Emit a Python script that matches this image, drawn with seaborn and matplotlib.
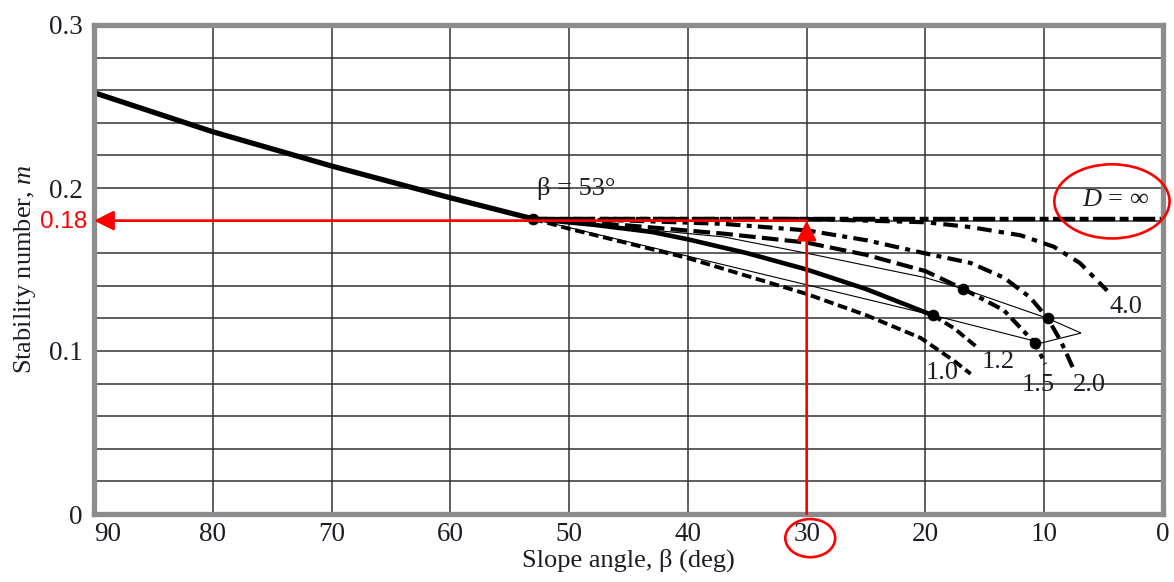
import matplotlib
matplotlib.use("Agg")
import matplotlib.pyplot as plt
import seaborn as sns
from matplotlib.patches import Ellipse
from matplotlib.ticker import MultipleLocator

# ---------------- data ----------------
x_ticks = [90, 80, 70, 60, 50, 40, 30, 20, 10, 0]
x_tick_labels = ["90", "80", "70", "60", "50", "40", "30", "20", "10", "0"]
y_ticks = [0, 0.1, 0.2, 0.3]
y_tick_labels = ["0", "0.1", "0.2", "0.3"]

beta_main = [90, 80, 70, 60, 53]
m_main = [0.2585, 0.2345, 0.2135, 0.194, 0.181]

beta_inf = [53, 0]
m_inf = [0.181, 0.181]

beta_d40 = [53, 30, 20, 16.2, 12, 9.2, 7, 4.7]
m_d40 = [0.181, 0.181, 0.179, 0.176, 0.171, 0.164, 0.154, 0.137]

beta_d20 = [53, 45, 37, 30, 25, 20.4, 16.2, 13.4, 11.2, 9.7, 8.6, 7.6]
m_d20 = [0.181, 0.180, 0.178, 0.174, 0.168, 0.1605, 0.154, 0.145, 0.133, 0.120, 0.106, 0.090]

beta_d15_a = [53, 45, 37, 30, 25, 20, 16.8]
m_d15_a = [0.181, 0.177, 0.172, 0.1665, 0.159, 0.149, 0.138]
beta_d15_b = [16.8, 13.4, 10.8, 9.9]
m_d15_b = [0.138, 0.125, 0.105, 0.092]

beta_d12_a = [53, 48, 43, 40, 35, 30, 25, 19.4]
m_d12_a = [0.181, 0.1775, 0.173, 0.1685, 0.160, 0.150, 0.138, 0.122]
beta_d12_b = [19.4, 17.6, 15.6]
m_d12_b = [0.122, 0.114, 0.102]

beta_d10 = [53, 50, 45, 40, 35, 30, 25, 20.4, 17.6, 16.2]
m_d10 = [0.181, 0.175, 0.166, 0.157, 0.146, 0.135, 0.122, 0.108, 0.094, 0.086]

beta_thin_up = [53, 37, 30, 20, 16.8, 9.7, 6.9]
m_thin_up = [0.181, 0.170, 0.160, 0.145, 0.138, 0.120, 0.111]
beta_thin_lo = [53, 19.4, 10.2, 6.9]
m_thin_lo = [0.181, 0.122, 0.105, 0.111]

beta_markers = [53, 19.4, 16.8, 10.8, 9.7]
m_markers = [0.181, 0.122, 0.138, 0.105, 0.120]

curve_labels = ["1.0", "1.2", "1.5", "2.0", "4.0"]
curve_label_beta = [18.6, 13.9, 10.5, 6.2, 3.1]
curve_label_m = [0.0867, 0.0934, 0.0793, 0.0793, 0.127]

read_beta = 30
read_m = 0.18

# ---------------- style ----------------
sns.set_style("white")
plt.rcParams["font.family"] = ["Liberation Serif", "DejaVu Serif"]
plt.rcParams["mathtext.fontset"] = "custom"
plt.rcParams["mathtext.rm"] = "Liberation Serif"
plt.rcParams["mathtext.it"] = "Liberation Serif:italic"

TXT = "#1c1c26"
fig = plt.figure(figsize=(11.74, 5.82), dpi=100)
ax = fig.add_axes([94 / 1174, 1 - 514 / 582, (1163 - 94) / 1174, (514 - 25) / 582])

def line(x, y, lw, ls, color="black"):
    sns.lineplot(x=x, y=y, ax=ax, color=color, linewidth=lw, linestyle=ls,
                 sort=False, estimator=None, solid_capstyle="butt",
                 dash_capstyle="butt", zorder=3)

line(beta_main, m_main, 3.8, "-")
line(beta_thin_up, m_thin_up, 0.8, "-")
line(beta_thin_lo, m_thin_lo, 0.8, "-")
line(beta_d10, m_d10, 2.8, (0, (2.5, 1.2)))
line(beta_d12_a, m_d12_a, 3.3, "-")
line(beta_d12_b, m_d12_b, 2.8, (0, (2.5, 1.2)))
line(beta_d15_a, m_d15_a, 3.0, (0, (4, 1.5)))
line(beta_d15_b, m_d15_b, 3.0, (0, (3, 1.3, 1.2, 1.3)))
line(beta_d20, m_d20, 3.0, (0, (3.5, 1.5, 1.2, 1.5)))
line(beta_d40, m_d40, 3.0, (0, (3.5, 1.7, 1.3, 1.7)))
line(beta_inf, m_inf, 3.2, (0, (5, 1, 2, 1)))

sns.scatterplot(x=beta_markers, y=m_markers, ax=ax, color="black", s=60,
                edgecolor="black", zorder=4)

# axes
ax.set_xlim(90, 0)
ax.set_ylim(0, 0.3)
ax.set_xticks(x_ticks)
ax.set_xticklabels(x_tick_labels)
ax.set_yticks(y_ticks)
ax.set_yticklabels(y_tick_labels)
ax.yaxis.set_minor_locator(MultipleLocator(0.02))
ax.grid(True, which="both", color="#333333", linewidth=1.1, zorder=0)
ax.set_axisbelow(True)
ax.tick_params(axis="both", which="both", length=0, labelsize=19.5, colors=TXT)
ax.tick_params(axis="x", pad=6)
ax.tick_params(axis="y", pad=8)
ax.get_xticklabels()[0].set_ha("left")
for s in ax.spines.values():
    s.set_visible(True)
    s.set_color("#8c8c8c")
    s.set_linewidth(3.8)
    s.set_zorder(5)

ax.set_xlabel("Slope angle, β (deg)", fontsize=19, color=TXT, labelpad=1)
ax.set_ylabel("Stability number, $m$", fontsize=19, color=TXT, labelpad=8)

# annotations
ax.text(49.4, 0.1998, "β = 53°", fontsize=19, color=TXT, ha="center", va="center", zorder=6)
ax.text(4.0, 0.1924, "$D$ = ∞", fontsize=19, color=TXT, ha="center", va="center", zorder=6)
for lab, bx, my in zip(curve_labels, curve_label_beta, curve_label_m):
    ax.text(bx, my, lab, fontsize=19, color=TXT, ha="center", va="center", zorder=6)

# red reading arrows
ax.annotate("", xy=(90, read_m), xytext=(read_beta, read_m),
            arrowprops=dict(arrowstyle="-|>", color="red", lw=1.9,
                            mutation_scale=30, shrinkA=0, shrinkB=0), zorder=7)
ax.annotate("", xy=(read_beta, read_m), xytext=(read_beta, 0),
            arrowprops=dict(arrowstyle="-|>", color="red", lw=1.9,
                            mutation_scale=30, shrinkA=0, shrinkB=0), zorder=7)
ax.annotate("0.18", xy=(0, read_m), xycoords=("axes fraction", "data"),
            xytext=(-5, -1), textcoords="offset points", ha="right", va="center",
            color="red", fontsize=17.5, family=["Liberation Sans", "DejaVu Sans"],
            annotation_clip=False)

ax.add_patch(Ellipse((29.7, -0.0148), 4.2, 0.0234, fill=False, edgecolor="red",
                     lw=1.9, clip_on=False, zorder=8))
ax.add_patch(Ellipse((4.3, 0.1918), 9.7, 0.0455, fill=False, edgecolor="red",
                     lw=1.9, clip_on=False, zorder=8))

fig.savefig("out.png", dpi=100)
